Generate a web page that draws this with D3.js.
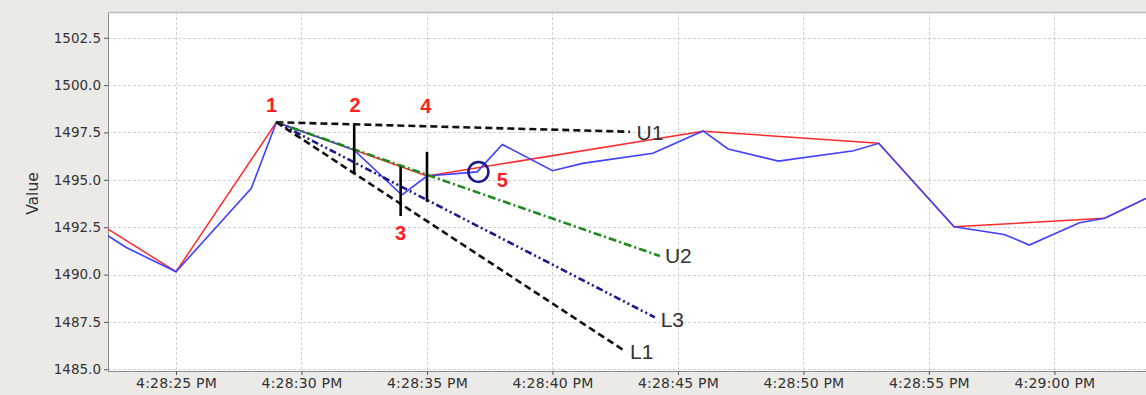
<!DOCTYPE html>
<html><head><meta charset="utf-8">
<script src="https://cdn.jsdelivr.net/npm/d3@7/dist/d3.min.js"></script>
<style>
html,body{margin:0;padding:0;background:#eceae7;}
svg{display:block;}
</style></head>
<body>
<svg id="chart" width="1146" height="395"></svg>
<script>
// ---- data (seconds are offsets from 4:28:25 PM) ----
const xDomainSeconds = [-2.71, 38.65];
const yDomain = [1484.91, 1503.86];
const yTicks = [1485.0, 1487.5, 1490.0, 1492.5, 1495.0, 1497.5, 1500.0, 1502.5];
const xTickSeconds = [0, 5, 10, 15, 20, 25, 30, 35];

const blueSeconds = [-3, -2, 0, 3, 4, 7.1, 9, 10, 12, 13, 15, 16.2, 19, 21, 22, 24, 27, 28, 31, 33, 34, 36, 37, 39];
const blueValues  = [1492.3, 1491.44, 1490.15, 1494.55, 1498.04, 1496.57, 1494.2, 1495.2, 1495.42, 1496.87, 1495.48, 1495.87, 1496.4, 1497.58, 1496.63, 1495.99, 1496.54, 1496.93, 1492.52, 1492.12, 1491.56, 1492.74, 1492.97, 1494.24];

const redSeconds = [-3, 0, 4, 10, 21, 28, 31, 37, 39];
const redValues  = [1492.64, 1490.15, 1498.04, 1495.2, 1497.57, 1496.93, 1492.52, 1492.97, 1494.24];

// trend lines from point 1
const trendNames = ["U1", "U2", "L3", "L1"];
const trendStart = [4, 1498.04];
const trendEndSeconds = [18.09, 19.28, 19.08, 17.82];
const trendEndValues  = [1497.54, 1490.98, 1487.74, 1486.02];
const trendLabelSeconds = [18.35, 19.48, 19.31, 18.09];
const trendLabelValues  = [1497.5, 1491.03, 1487.64, 1485.93];

// vertical markers
const barSeconds = [7.1, 8.95, 10];
const barLow  = [1495.31, 1493.09, 1493.84];
const barHigh = [1497.97, 1495.69, 1496.48];

// numbered points
const pointLabels = ["1", "2", "3", "4", "5"];
const pointLabelSeconds = [3.81, 7.13, 8.95, 9.95, 13.0];
const pointLabelValues  = [1498.95, 1498.95, 1492.21, 1498.9, 1494.99];

const circleSecond = 12.05, circleValue = 1495.42;

// ---- layout ----
const base = new Date(2010, 0, 1, 16, 28, 25);
const T = s => new Date(base.getTime() + s * 1000);
const L = 108, R = 1146, TOP = 12, BOT = 371;

const svg = d3.select("#chart");
const x = d3.scaleTime().domain(xDomainSeconds.map(T)).range([L, R]);
const y = d3.scaleLinear().domain(yDomain).range([BOT, TOP]);

// plot background
svg.append("rect").attr("x", L).attr("y", TOP).attr("width", R - L).attr("height", BOT - TOP).attr("fill", "#ffffff");

const defs = svg.append("defs");
defs.append("clipPath").attr("id", "clip").append("rect")
  .attr("x", L).attr("y", TOP).attr("width", R - L).attr("height", BOT - TOP);

// gridlines
const grid = svg.append("g").attr("stroke", "#d2d2d2").attr("stroke-width", 1).attr("stroke-dasharray", "3,2");
grid.selectAll(".gy").data(yTicks).join("line")
  .attr("x1", L).attr("x2", R).attr("y1", d => Math.round(y(d)) + 0.5).attr("y2", d => Math.round(y(d)) + 0.5);
grid.selectAll(".gx").data(xTickSeconds).join("line")
  .attr("y1", TOP).attr("y2", BOT).attr("x1", d => Math.round(x(T(d))) + 0.5).attr("x2", d => Math.round(x(T(d))) + 0.5);

// axes
const fmt = d3.timeFormat("%-I:%M:%S %p");
const xAxis = d3.axisBottom(x).tickValues(xTickSeconds.map(T)).tickFormat(fmt).tickSize(4).tickPadding(3);
const yAxis = d3.axisLeft(y).tickValues(yTicks).tickFormat(d3.format(".1f")).tickSize(4).tickPadding(3);

const gx = svg.append("g").attr("transform", `translate(0,${BOT})`).call(xAxis);
const gy = svg.append("g").attr("transform", `translate(${L},0)`).call(yAxis);
[gx, gy].forEach(g => {
  g.select(".domain").attr("stroke", "#8a8a8a");
  g.selectAll(".tick line").attr("stroke", "#555");
  g.selectAll(".tick text").attr("fill", "#333").attr("font-family", "DejaVu Sans, sans-serif").attr("font-size", "13.5px");
});
gx.selectAll(".tick text").attr("font-size", "14px").attr("letter-spacing", "0.2px");
gy.select(".domain").attr("d", `M0.5,${TOP}V${BOT}`);
gx.select(".domain").attr("d", `M${L},0.5H${R}`);

// top border
svg.append("line").attr("x1", L).attr("x2", R).attr("y1", TOP + 0.5).attr("y2", TOP + 0.5).attr("stroke", "#bdbdbd").attr("stroke-width", 1.5);

// axis title
svg.append("text").attr("transform", `translate(38,${(TOP + BOT) / 2 + 2}) rotate(-90)`)
  .attr("text-anchor", "middle").attr("font-family", "DejaVu Sans, sans-serif").attr("font-size", "15.5px").attr("fill", "#333")
  .text("Value");

const plot = svg.append("g").attr("clip-path", "url(#clip)");
const line = d3.line().x(d => x(T(d[0]))).y(d => y(d[1]));

// series
plot.append("path").datum(d3.zip(redSeconds, redValues)).attr("d", line)
  .attr("fill", "none").attr("stroke", "#ff2a2a").attr("stroke-width", 1.5);
plot.append("path").datum(d3.zip(blueSeconds, blueValues)).attr("d", line)
  .attr("fill", "none").attr("stroke", "#4040ff").attr("stroke-width", 1.6);

// trend lines
const trendStyle = {
  U1: {stroke: "#111111", dash: "7,4"},
  U2: {stroke: "#1c8a1c", dash: "8,3,2,3"},
  L3: {stroke: "#1a1a8c", dash: "7,3,2,3,2,3"},
  L1: {stroke: "#111111", dash: "7,4"}
};
trendNames.forEach((n, i) => {
  plot.append("path").datum([trendStart, [trendEndSeconds[i], trendEndValues[i]]]).attr("d", line)
    .attr("fill", "none").attr("stroke", trendStyle[n].stroke).attr("stroke-width", 2.6)
    .attr("stroke-dasharray", trendStyle[n].dash);
  svg.append("text").attr("x", x(T(trendLabelSeconds[i]))).attr("y", y(trendLabelValues[i]))
    .attr("dy", "0.36em").attr("font-family", "Liberation Sans, Arial, sans-serif").attr("font-size", "21px")
    .attr("fill", "#333").text(n);
});

// vertical markers
barSeconds.forEach((s, i) => {
  plot.append("line").attr("x1", x(T(s))).attr("x2", x(T(s))).attr("y1", y(barLow[i])).attr("y2", y(barHigh[i]))
    .attr("stroke", "#000").attr("stroke-width", 2.6);
});

// circle
plot.append("circle").attr("cx", x(T(circleSecond))).attr("cy", y(circleValue)).attr("r", 10)
  .attr("fill", "none").attr("stroke", "#1a1a8c").attr("stroke-width", 2.5);

// numbered labels
pointLabels.forEach((p, i) => {
  svg.append("text").attr("x", x(T(pointLabelSeconds[i]))).attr("y", y(pointLabelValues[i]))
    .attr("dy", "0.36em").attr("text-anchor", "middle")
    .attr("font-family", "Liberation Sans, Arial, sans-serif").attr("font-weight", "bold").attr("font-size", "20px")
    .attr("fill", "#ff2020").text(p);
});
</script>
</body></html>
